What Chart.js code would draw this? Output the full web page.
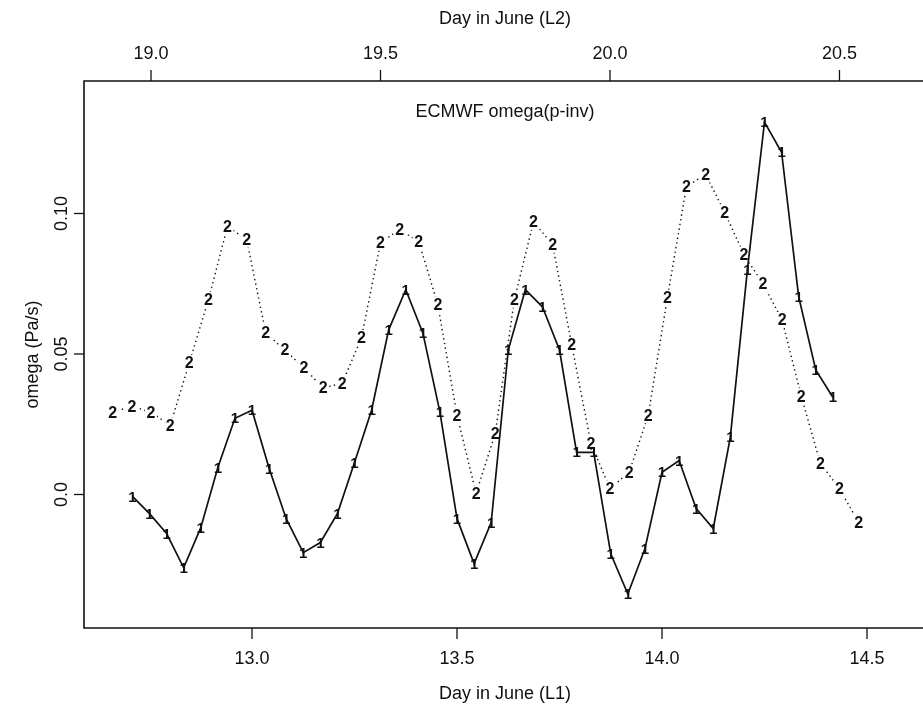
<!DOCTYPE html>
<html><head><meta charset="utf-8">
<script src="https://cdn.jsdelivr.net/npm/chart.js@4.4.0/dist/chart.umd.min.js"></script>
<style>
html,body{margin:0;padding:0;background:#fff;overflow:hidden;width:923px;height:706px}
#wrap{position:absolute;left:0;top:0;width:960px;height:706px}
</style></head><body>
<div id="wrap"><canvas id="c" width="960" height="706"></canvas></div>
<script>
// ---- data ----
const series1StartL1 = 12 + 17/24;      // first hour of series 1, day in June (L1)
const series2StartL2 = 18 + 22/24;      // first hour of series 2, day in June (L2)
const hourStep = 1/24;
const series1 = [-0.0007,-0.0068,-0.0139,-0.0261,-0.0118,0.0096,0.0271,0.0300,0.0093,-0.0086,
  -0.0207,-0.0171,-0.0068,0.0114,0.0300,0.0586,0.0729,0.0575,0.0293,-0.0086,
  -0.0246,-0.0100,0.0514,0.0729,0.0668,0.0514,0.0150,0.0150,-0.0211,-0.0354,
  -0.0193,0.0079,0.0121,-0.0050,-0.0121,0.0204,0.0800,0.1325,0.1218,0.0704,
  0.0443,0.0346];
const series2 = [0.0293,0.0314,0.0293,0.0246,0.0468,0.0693,0.0954,0.0907,0.0575,0.0514,
  0.0450,0.0379,0.0396,0.0557,0.0896,0.0943,0.0900,0.0675,0.0282,0.0004,
  0.0218,0.0693,0.0971,0.0889,0.0532,0.0182,0.0021,0.0079,0.0282,0.0700,
  0.1096,0.1139,0.1004,0.0854,0.0750,0.0621,0.0350,0.0111,0.0021,-0.0100];
const bottomTicks = [13.0, 13.5, 14.0, 14.5];
const bottomTickLabels = ["13.0", "13.5", "14.0", "14.5"];
const topTicks = [19.0, 19.5, 20.0, 20.5];
const topTickLabels = ["19.0", "19.5", "20.0", "20.5"];
const yTicks = [0.0, 0.05, 0.10];
const yTickLabels = ["0.0", "0.05", "0.10"];
const titleText = "ECMWF omega(p-inv)";
const bottomTitle = "Day in June (L1)";
const topTitle = "Day in June (L2)";
const yTitle = "omega (Pa/s)";

const pts1 = series1.map((v, i) => ({x: series1StartL1 + i * hourStep, y: v}));
const pts2 = series2.map((v, i) => ({x: series2StartL2 + i * hourStep, y: v}));

const INK = '#111';
const FONT = '"Liberation Sans", Arial, Helvetica, sans-serif';

const markerPlugin = {
  id: 'markers',
  afterDatasetDraw(chart, args) {
    const ctx = chart.ctx;
    const meta = args.meta;
    ctx.save();
    ctx.textAlign = 'center';
    ctx.textBaseline = 'middle';
    if (args.index === 1) {
      ctx.font = 'bold 16px ' + FONT;
      meta.data.forEach(p => {
        ctx.fillStyle = '#fff';
        ctx.fillRect(p.x - 6, p.y - 8, 12, 16);
      });
      ctx.fillStyle = INK;
      meta.data.forEach(p => ctx.fillText('2', p.x, p.y + 1));
    } else {
      ctx.font = 'bold 15px ' + FONT;
      ctx.fillStyle = INK;
      meta.data.forEach(p => ctx.fillText('1', p.x, p.y + 1));
    }
    ctx.restore();
  }
};

const axesPlugin = {
  id: 'axesDraw',
  afterDraw(chart) {
    const ctx = chart.ctx;
    const a = chart.chartArea;
    const sx = chart.scales.x, sx2 = chart.scales.x2, sy = chart.scales.y;
    ctx.save();
    ctx.strokeStyle = INK;
    ctx.fillStyle = INK;
    ctx.lineWidth = 1.6;
    ctx.beginPath();
    ctx.rect(a.left, a.top, a.right - a.left, a.bottom - a.top);
    ctx.stroke();
    ctx.lineWidth = 1.3;
    ctx.font = '18px ' + FONT;
    ctx.textAlign = 'center';
    ctx.textBaseline = 'middle';
    // bottom axis
    bottomTicks.forEach((t, i) => {
      const px = sx.getPixelForValue(t);
      ctx.beginPath(); ctx.moveTo(px, a.bottom); ctx.lineTo(px, a.bottom + 11); ctx.stroke();
      ctx.fillText(bottomTickLabels[i], px, a.bottom + 31);
    });
    // top axis
    topTicks.forEach((t, i) => {
      const px = sx2.getPixelForValue(t);
      ctx.beginPath(); ctx.moveTo(px, a.top); ctx.lineTo(px, a.top - 11); ctx.stroke();
      ctx.fillText(topTickLabels[i], px, a.top - 27);
    });
    // left axis
    yTicks.forEach((t, i) => {
      const py = sy.getPixelForValue(t);
      ctx.beginPath(); ctx.moveTo(a.left, py); ctx.lineTo(a.left - 10, py); ctx.stroke();
      ctx.save();
      ctx.translate(a.left - 22, py);
      ctx.rotate(-Math.PI / 2);
      ctx.fillText(yTickLabels[i], 0, 0);
      ctx.restore();
    });
    const cx = (a.left + a.right) / 2;
    ctx.fillText(bottomTitle, cx, 694);
    ctx.fillText(topTitle, cx, 19);
    ctx.fillText(titleText, cx, a.top + 31);
    ctx.save();
    ctx.translate(33, (a.top + a.bottom) / 2);
    ctx.rotate(-Math.PI / 2);
    ctx.fillText(yTitle, 0, 0);
    ctx.restore();
    ctx.restore();
  }
};

new Chart(document.getElementById('c'), {
  type: 'line',
  data: {
    datasets: [
      {label: '1', data: pts1, xAxisID: 'x', yAxisID: 'y', borderColor: INK, borderWidth: 1.7,
       pointRadius: 0, tension: 0, fill: false},
      {label: '2', data: pts2, xAxisID: 'x2', yAxisID: 'y', borderColor: INK, borderWidth: 1.4,
       borderDash: [1.4, 3.3], pointRadius: 0, tension: 0, fill: false}
    ]
  },
  options: {
    responsive: false,
    animation: false,
    devicePixelRatio: 1,
    layout: {padding: {left: 84, top: 81, right: 34, bottom: 78}},
    plugins: {legend: {display: false}, tooltip: {enabled: false}, title: {display: false}},
    scales: {
      x: {type: 'linear', display: false, min: 12.5902, max: 14.6439},
      x2: {type: 'linear', display: false, min: 18.854, max: 20.6885},
      y: {type: 'linear', display: false, min: -0.04751, max: 0.14715}
    }
  },
  plugins: [markerPlugin, axesPlugin]
});
</script>
</body></html>
